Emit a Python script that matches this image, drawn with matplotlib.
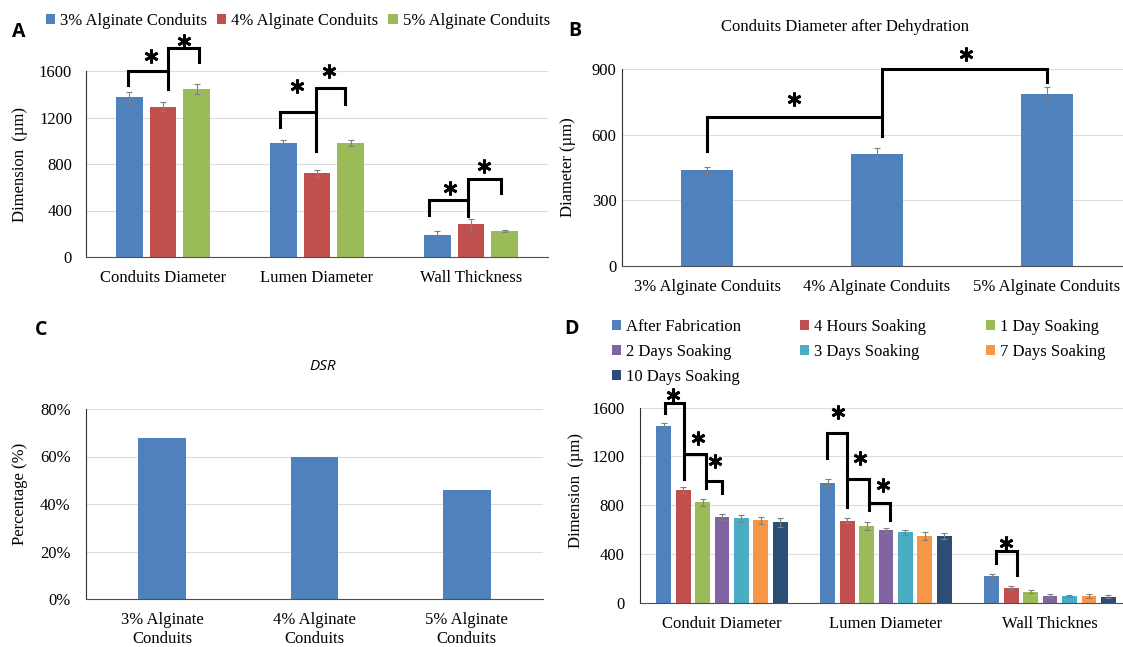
import numpy as np
import matplotlib
matplotlib.use("Agg")
import matplotlib.pyplot as plt

# ---- panel A: conduit dimensions by alginate concentration
a_groups = ["Conduits Diameter", "Lumen Diameter", "Wall Thickness"]
a_series = ["3% Alginate Conduits", "4% Alginate Conduits", "5% Alginate Conduits"]
a_vals = [[1375, 977, 186], [1292, 720, 281], [1446, 981, 223]]
a_errs = [[43, 30, 35], [40, 30, 46], [40, 25, 12]]

# ---- panel B: diameter after dehydration
b_groups = ["3% Alginate Conduits", "4% Alginate Conduits", "5% Alginate Conduits"]
b_vals = [437, 514, 788]
b_errs = [17, 27, 30]

# ---- panel C: DSR
c_groups = ["3% Alginate\nConduits", "4% Alginate\nConduits", "5% Alginate\nConduits"]
c_vals = [68, 60, 46]

# ---- panel D: dimensions over soaking time
d_groups = ["Conduit Diameter", "Lumen Diameter", "Wall Thicknes"]
d_series = ["After Fabrication", "4 Hours Soaking", "1 Day Soaking", "2 Days Soaking",
            "3 Days Soaking", "7 Days Soaking", "10 Days Soaking"]
d_vals = [[1450, 984, 221], [925, 673, 123], [823, 627, 94], [703, 594, 57],
          [692, 578, 57], [677, 549, 58], [661, 549, 53]]
d_errs = [[27, 27, 16], [22, 22, 19], [27, 33, 14], [22, 22, 16],
          [25, 19, 11], [27, 30, 13], [35, 25, 10]]

# significance brackets (data coords) and asterisks
a_lines = [([-0.228, -0.228, 0.032, 0.032], [1482, 1603, 1603, 1445]),
           ([0.032, 0.032, 0.235, 0.235], [1603, 1799, 1799, 1675]),
           ([0.759, 0.759, 0.991, 0.991], [1122, 1247, 1247, 915]),
           ([0.991, 0.991, 1.18, 1.18], [1247, 1454, 1454, 1318]),
           ([1.728, 1.728, 1.98, 1.98], [360, 489, 489, 354]),
           ([1.98, 1.98, 2.193, 2.193], [489, 671, 671, 547])]
a_stars = [(-0.079, 1727), (0.138, 1856), (0.87, 1474), (1.078, 1597), (1.862, 596), (2.082, 786)]

b_lines = [([0.002, 0.002, 1.032, 1.032], [526, 680, 680, 594]),
           ([1.032, 1.032, 1.998, 1.998], [680, 901, 901, 843])]
b_stars = [(0.513, 762), (1.521, 970)]

d_lines = [([-0.348, -0.348, -0.23, -0.23], [1555, 1639, 1639, 1015]),
           ([-0.23, -0.099, -0.099], [1219, 1219, 944]),
           ([-0.099, 0.0, 0.0], [1001, 1001, 903]),
           ([0.638, 0.638, 0.764, 0.764], [1184, 1389, 1389, 788]),
           ([0.764, 0.898, 0.898], [1015, 1015, 761]),
           ([0.898, 1.024, 1.024], [816, 816, 679]),
           ([1.669, 1.669, 1.797, 1.797], [327, 428, 428, 229])]
d_stars = [(-0.297, 1702), (-0.144, 1348), (-0.045, 1165),
           (0.705, 1564), (0.841, 1184), (0.984, 966), (1.73, 494)]

colors = ["#4F81BD", "#C0504D", "#9BBB59", "#8064A2", "#4BACC6", "#F79646", "#2C4D75"]
err_kw = dict(ecolor="#7f7f7f", elinewidth=0.8, capsize=2.5, capthick=0.8)

plt.rcParams["font.family"] = ["Liberation Serif", "DejaVu Serif"]
plt.rcParams["font.size"] = 12

W, H = 1123, 647
fig = plt.figure(figsize=(W / 100, H / 100), dpi=100)


def px_axes(left, right, top, bottom):
    return fig.add_axes([left / W, 1 - bottom / H, (right - left) / W, (bottom - top) / H])


def style(ax, ymax, yticks, pad_y, pad_x):
    ax.set_ylim(0, ymax)
    ax.set_yticks(yticks)
    ax.grid(axis="y", color="#dcdcdc", lw=0.8)
    ax.set_axisbelow(True)
    ax.spines["top"].set_visible(False)
    ax.spines["right"].set_visible(False)
    ax.spines["left"].set_color("#303030")
    ax.spines["bottom"].set_color("#505050")
    ax.tick_params(length=0, labelsize=12)
    ax.tick_params(axis="y", pad=pad_y)
    ax.tick_params(axis="x", pad=pad_x)


def marks(ax, lines, stars):
    for xs, ys in lines:
        ax.plot(xs, ys, color="black", lw=2.2, clip_on=False, solid_joinstyle="miter")
    for x, y in stars:
        ax.plot(x, y, marker=(6, 2, 0), ms=10, mew=2, color="black", clip_on=False)


def ylabel(ax, text, x, y):
    ax.set_ylabel(text, fontsize=12)
    ax.yaxis.set_label_coords(x, y)
    ax.yaxis.label.set_va("center")


# panel A
axA = px_axes(86, 548, 71, 257)
x = np.arange(len(a_groups))
bars_a = []
for i, name in enumerate(a_series):
    b = axA.bar(x + (i - 1) * 0.22, a_vals[i], 0.175, yerr=a_errs[i], color=colors[i],
                error_kw=err_kw, label=name)
    bars_a.append(b)
axA.set_xticks(x, a_groups)
axA.set_xlim(-0.5, 2.5)
style(axA, 1600, [0, 400, 800, 1200, 1600], 10, 9)
ylabel(axA, "Dimension  (µm)", -0.143, 0.5)
marks(axA, a_lines, a_stars)
fig.legend(handles=bars_a, labels=a_series, loc="center left", bbox_to_anchor=(46 / W, 1 - 21 / H),
           ncol=3, frameon=False, fontsize=12, handlelength=0.55, handleheight=0.55,
           handletextpad=0.3, columnspacing=0.6, borderpad=0, borderaxespad=0)

# panel B
axB = px_axes(622, 1123, 69.3, 265.7)
x = np.arange(len(b_groups))
axB.bar(x, b_vals, 0.31, yerr=b_errs, color=colors[0], error_kw=err_kw)
axB.set_xticks(x, b_groups)
axB.set_xlim(-0.5, 2.447)
style(axB, 900, [0, 300, 600, 900], 4, 9.5)
ylabel(axB, "Diameter (µm)", -0.108, 0.5)
marks(axB, b_lines, b_stars)
fig.text(845 / W, 1 - 26.7 / H, "Conduits Diameter after Dehydration", ha="center", va="center", fontsize=12)

# panel C
axC = px_axes(86, 543, 409, 599)
x = np.arange(len(c_groups))
axC.bar(x, c_vals, 0.315, color=colors[0])
axC.set_xticks(x, c_groups)
axC.set_xlim(-0.5, 2.5)
style(axC, 80, [0, 20, 40, 60, 80], 11, 9)
axC.set_yticklabels([f"{t}%" for t in [0, 20, 40, 60, 80]])
for t in axC.get_xticklabels():
    t.set_linespacing(1.3)
ylabel(axC, "Percentage (%)", -0.144, 0.555)
fig.text(323 / W, 1 - 367 / H, "DSR", ha="center", va="center", fontsize=11,
         style="italic", family="Open Sans")

# panel D
axD = px_axes(640, 1123, 407.5, 603)
x = np.arange(len(d_groups))
bars_d = []
for i, name in enumerate(d_series):
    b = axD.bar(x + (i - 3) * 0.1185, d_vals[i], 0.09, yerr=d_errs[i], color=colors[i],
                error_kw=err_kw, label=name)
    bars_d.append(b)
axD.set_xticks(x, d_groups)
axD.set_xlim(-0.5, 2.445)
style(axD, 1600, [0, 400, 800, 1200, 1600], 11, 9)
ylabel(axD, "Dimension  (µm)", -0.1325, 0.578)
marks(axD, d_lines, d_stars)
# legend fills column by column; reorder so it reads row by row
order = [0, 3, 6, 1, 4, 2, 5]
fig.legend(handles=[bars_d[k] for k in order], labels=[d_series[k] for k in order],
           loc="upper left", bbox_to_anchor=(612 / W, 1 - 319 / H),
           ncol=3, frameon=False, fontsize=12, handlelength=0.55, handleheight=0.55,
           handletextpad=0.3, columnspacing=3.55, labelspacing=0.55, borderpad=0, borderaxespad=0)

# panel letters
for lx, ly, letter in [(18.5, 31.7, "A"), (575, 31, "B"), (41, 330, "C"), (571, 329, "D")]:
    fig.text(lx / W, 1 - ly / H, letter, ha="center", va="center", fontsize=14,
             fontweight="bold", family="Open Sans")

fig.savefig("out.png", dpi=100)
